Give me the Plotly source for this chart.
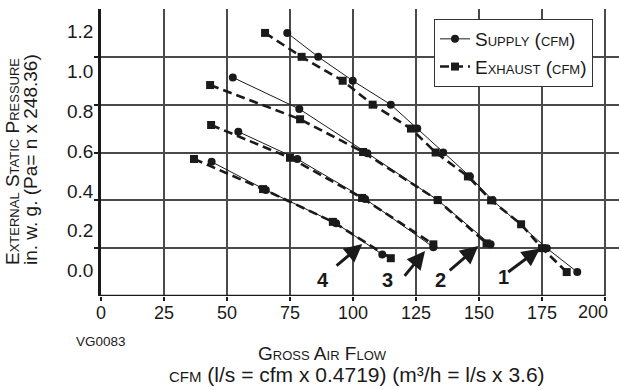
import plotly.graph_objects as go

# ---------------- data (x = CFM, y = pressure on the grid scale) ----------------
c1_supply_x = [73.9, 86.2, 99.9, 115.0, 125.5, 135.8, 146.4, 155.4, 176.9, 189.0]
c1_supply_y = [1.1, 1.0, 0.9, 0.8, 0.7, 0.6, 0.5, 0.4, 0.2, 0.1]
c1_exhaust_x = [65.1, 79.6, 95.9, 107.8, 123.0, 132.8, 145.6, 154.8, 166.7, 175.0, 184.8]
c1_exhaust_y = [1.1, 1.0, 0.9, 0.8, 0.7, 0.6, 0.5, 0.4, 0.3, 0.2, 0.1]

c2_supply_x = [52.3, 78.7, 105.7, 133.6, 154.6]
c2_supply_y = [0.914, 0.782, 0.597, 0.401, 0.216]
c2_exhaust_x = [43.3, 79.0, 104.0, 133.6, 153.0]
c2_exhaust_y = [0.882, 0.739, 0.602, 0.401, 0.220]

c3_supply_x = [54.5, 77.9, 104.8, 131.9]
c3_supply_y = [0.687, 0.573, 0.406, 0.204]
c3_exhaust_x = [43.7, 75.0, 103.6, 131.9]
c3_exhaust_y = [0.715, 0.578, 0.410, 0.216]

c4_supply_x = [43.9, 65.4, 93.3, 111.6]
c4_supply_y = [0.561, 0.443, 0.304, 0.174]
c4_exhaust_x = [36.9, 64.3, 92.0, 115.0]
c4_exhaust_y = [0.573, 0.447, 0.310, 0.158]

x_ticks = [0, 25, 50, 75, 100, 125, 150, 175, 200]
x_tick_labels = ["0", "25", "50", "75", "100", "125", "150", "175", "200"]
y_grid = [0.2, 0.4, 0.6, 0.8, 1.0]
y_tick_labels = ["0.0", "0.2", "0.4", "0.6", "0.8", "1.0", "1.2"]

curve_labels = ["1", "2", "3", "4"]
arrow_head_x = [174.2, 149.7, 128.6, 103.7]
arrow_head_y = [0.199, 0.209, 0.188, 0.217]
arrow_tail_x = [161.0, 137.8, 120.0, 92.9]
arrow_tail_y = [0.096, 0.102, 0.078, 0.122]
label_x = [159.8, 134.6, 113.6, 88.0]
label_y = [0.080, 0.066, 0.066, 0.068]

# ---------------- style ----------------
FONT = "Liberation Sans, Arial, Helvetica, sans-serif"
INK = "#1a1a1a"
GRID = "#4a4a4a"
LABEL_OFFSET = 0.106   # where the "0.0" label sits on the grid scale
LABEL_SPAN = 1.0       # grid distance from "0.0" to "1.2" label
LAST_X_LABEL_SHIFT = -12  # px: last x label is pulled inside the page

y_label_pos = [LABEL_OFFSET + LABEL_SPAN * float(t) / 1.2 for t in y_tick_labels]

fig = go.Figure()

supply_sets = [(c1_supply_x, c1_supply_y), (c2_supply_x, c2_supply_y),
               (c3_supply_x, c3_supply_y), (c4_supply_x, c4_supply_y)]
exhaust_sets = [(c1_exhaust_x, c1_exhaust_y), (c2_exhaust_x, c2_exhaust_y),
                (c3_exhaust_x, c3_exhaust_y), (c4_exhaust_x, c4_exhaust_y)]

for i, (ex, ey) in enumerate(exhaust_sets):
    fig.add_trace(go.Scatter(
        x=ex, y=ey, mode="lines+markers",
        line=dict(color=INK, width=2.6, dash="9px,5px"),
        marker=dict(symbol="square", size=8, color=INK),
        name="Exhaust (cfm)", legendgroup="ex", legendrank=2,
        showlegend=(i == 0), hoverinfo="skip"))

for i, (sx, sy) in enumerate(supply_sets):
    fig.add_trace(go.Scatter(
        x=sx, y=sy, mode="lines+markers",
        line=dict(color=INK, width=1),
        marker=dict(symbol="circle", size=8, color=INK),
        name="Supply (cfm)", legendgroup="sup", legendrank=1,
        showlegend=(i == 0), hoverinfo="skip"))

annotations = []
for hx, hy, tx, ty in zip(arrow_head_x, arrow_head_y, arrow_tail_x, arrow_tail_y):
    annotations.append(dict(
        x=hx, y=hy, ax=tx, ay=ty, xref="x", yref="y", axref="x", ayref="y",
        text="", showarrow=True, arrowhead=2, arrowsize=1.2, arrowwidth=3,
        arrowcolor=INK, standoff=0, startstandoff=0))
for lx, ly, lt in zip(label_x, label_y, curve_labels):
    annotations.append(dict(
        x=lx, y=ly, xref="x", yref="y", text="<b>%s</b>" % lt, showarrow=False,
        font=dict(family=FONT, size=20, color=INK)))

# last x tick label, drawn slightly inside the page edge
annotations.append(dict(
    x=x_ticks[-1], y=0, xref="x", yref="y", text=x_tick_labels[-1], showarrow=False,
    xshift=LAST_X_LABEL_SHIFT, yanchor="top", yshift=-4,
    font=dict(family=FONT, size=18, color=INK)))

# axis titles (positions given in page pixels, converted below)
annotations += [
    dict(x=12, y=162, xref="paper", yref="paper", text="External Static Pressure",
         textangle=-90, showarrow=False,
         font=dict(family=FONT, size=19, color=INK, variant="small-caps")),
    dict(x=30, y=160, xref="paper", yref="paper", text="in. w. g. (Pa= n x 248.36)",
         textangle=-90, showarrow=False,
         font=dict(family=FONT, size=19, color=INK)),
    dict(x=322, y=353, xref="paper", yref="paper", text="Gross Air Flow",
         showarrow=False,
         font=dict(family=FONT, size=19, color=INK, variant="small-caps")),
    dict(x=357, y=374, xref="paper", yref="paper",
         text="<span style='font-variant:small-caps'>cfm</span> (l/s = cfm x 0.4719) (m³/h = l/s x 3.6)",
         showarrow=False, font=dict(family=FONT, size=21, color=INK)),
    dict(x=101, y=341, xref="paper", yref="paper", text="VG0083",
         showarrow=False, font=dict(family=FONT, size=13.5, color=INK)),
]

W, H = 619, 390
ML, MR, MT, MB = 101, 0, 9, 94
PW, PH = W - ML - MR, H - MT - MB

for a in annotations:
    if a.get("xref") == "paper":
        a["x"] = (a["x"] - ML) / PW
        a["y"] = (H - MB - a["y"]) / PH
        a["xanchor"] = "center"
        a["yanchor"] = "middle"

X_PER_PX = 200 / 504.0
x_max = PW * X_PER_PX

fig.update_layout(
    width=W, height=H,
    margin=dict(l=ML, r=MR, t=MT, b=MB, pad=0),
    paper_bgcolor="white", plot_bgcolor="white",
    font=dict(family=FONT, size=18, color=INK),
    showlegend=True,
    legend=dict(
        x=(593 - ML) / PW, y=(H - MB - 53) / PH, xanchor="right", yanchor="middle",
        bgcolor="white", bordercolor="#333", borderwidth=1,
        font=dict(family=FONT, size=19, color=INK, variant="small-caps"),
        traceorder="grouped", tracegroupgap=0, itemwidth=30,
    ),
    xaxis=dict(
        range=[0, x_max], tickmode="array", tickvals=x_ticks,
        ticktext=x_tick_labels[:-1] + [""],
        showgrid=True, gridcolor=GRID, gridwidth=1.5,
        ticks="outside", ticklen=4, tickwidth=1.5, tickcolor=INK,
        ticklabelstandoff=-4,
        showline=False, zeroline=False,
        tickfont=dict(family=FONT, size=18, color=INK),
    ),
    yaxis=dict(
        range=[0, 1.2], tickmode="array", tickvals=y_label_pos,
        ticktext=y_tick_labels, showgrid=False,
        ticks="outside", ticklen=0, ticklabelstandoff=1,
        showline=True, linecolor=INK, linewidth=2.5,
        zeroline=False,
        tickfont=dict(family=FONT, size=19, color=INK),
        minor=dict(tickmode="array", tickvals=y_grid,
                   showgrid=True, gridcolor=GRID, gridwidth=1.5,
                   ticks="outside", ticklen=4, tickwidth=1.5, tickcolor=INK),
    ),
    annotations=annotations,
    shapes=[dict(type="line", xref="x", yref="y", x0=0, x1=200, y0=0, y1=0,
                 line=dict(color=INK, width=2.5), layer="above")],
)

fig.write_html("out.html", config={"displayModeBar": False},
               post_script="document.body.style.margin='0';document.body.style.overflow='hidden';")
